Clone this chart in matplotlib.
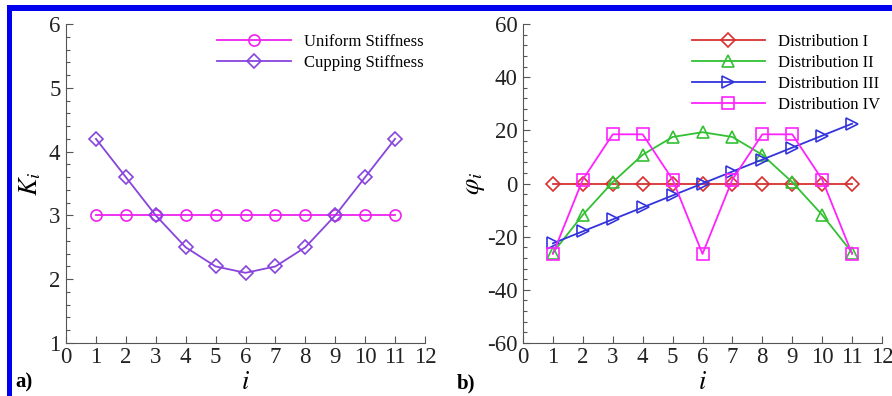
import matplotlib
matplotlib.use('Agg')
import matplotlib.pyplot as plt
from matplotlib.patches import Rectangle
from matplotlib.ticker import MultipleLocator

plt.rcParams['font.family'] = ['Liberation Serif', 'DejaVu Serif']
plt.rcParams['mathtext.fontset'] = 'stix'
plt.rcParams['axes.unicode_minus'] = False

# data
i_vals = [1, 2, 3, 4, 5, 6, 7, 8, 9, 10, 11]
uniform = [3, 3, 3, 3, 3, 3, 3, 3, 3, 3, 3]
cupping = [4.2, 3.6, 3.0, 2.5, 2.2, 2.1, 2.2, 2.5, 3.0, 3.6, 4.2]

dist1 = [0, 0, 0, 0, 0, 0, 0, 0, 0, 0, 0]
dist2 = [-26, -11.8, 0.5, 10.8, 17.5, 19.3, 17.5, 10.8, 0.5, -11.8, -26]
dist3 = [-22.5, -18, -13.5, -9, -4.5, 0, 4.5, 9, 13.5, 18, 22.5]
dist4 = [-26.5, 1.5, 18.5, 18.5, 1.5, -26.5, 1.5, 18.5, 18.5, 1.5, -26.5]

W, H = 892, 396
fig = plt.figure(figsize=(W / 100, H / 100), dpi=100)

ax1 = fig.add_axes([66 / W, 1 - 343 / H, (425 - 66) / W, (343 - 24) / H])
ax2 = fig.add_axes([523 / W, 1 - 343 / H, (882 - 523) / W, (343 - 24) / H])

mk = dict(markerfacecolor='none', markersize=8, markeredgewidth=1.2, linewidth=1.3)
dmk = dict(markerfacecolor='none', markersize=7, markeredgewidth=1.2, linewidth=1.3)

ax1.plot(i_vals, uniform, color='#ee22ee', marker='o', label='Uniform Stiffness', **mk)
ax1.plot(i_vals, cupping, color='#8844dd', marker='D', label='Cupping Stiffness', **dmk)

ax2.plot(i_vals, dist1, color='#d83030', marker='D', label='Distribution I', **dmk)
ax2.plot(i_vals, dist2, color='#33c033', marker='^', label='Distribution II', **mk)
ax2.plot(i_vals, dist3, color='#3333dd', marker='>', label='Distribution III', **mk)
ax2.plot(i_vals, dist4, color='#ff22ff', marker='s', label='Distribution IV', **mk)

ax1.set_xlim(0, 12)
ax1.set_ylim(1, 6)
ax1.yaxis.set_major_locator(MultipleLocator(1))
ax1.yaxis.set_minor_locator(MultipleLocator(0.2))
ax2.set_xlim(0, 12)
ax2.set_ylim(-60, 60)
ax2.yaxis.set_major_locator(MultipleLocator(20))
ax2.yaxis.set_minor_locator(MultipleLocator(4))

for ax in (ax1, ax2):
    ax.xaxis.set_major_locator(MultipleLocator(1))
    ax.spines['top'].set_visible(False)
    ax.spines['right'].set_visible(False)
    ax.spines['left'].set_color('#555555')
    ax.spines['bottom'].set_color('#555555')
    ax.tick_params(which='major', direction='in', length=5, width=0.8, color='#555555',
                   labelsize=16.5, pad=4, labelcolor='#222222')
    ax.tick_params(which='minor', direction='in', length=3, width=0.8, color='#555555')
    ax.tick_params(axis='x', pad=3)
    ax.set_xlabel('$i$', fontsize=19, labelpad=3)
    ax.legend(loc='upper right', frameon=False, fontsize=12, handlelength=4.4,
              borderaxespad=0.2, labelspacing=0.3, handletextpad=0.8,
              bbox_to_anchor=(1.024, 1.0))

ax1.set_ylabel('$K_i$', fontsize=19, labelpad=4)
ax2.set_ylabel(r'$\varphi_i$', fontsize=19, labelpad=0)

fig.text(15 / W, 1 - 382 / H, 'a)', fontsize=15, fontweight='bold', va='center', ha='left')
fig.text(457 / W, 1 - 383 / H, 'b)', fontsize=15, fontweight='bold', va='center', ha='left')

# blue frame pieces
fig.add_artist(Rectangle((7 / W, 1 - 11 / H), 1 - 7 / W, 6 / H, transform=fig.transFigure,
                         facecolor='#0000ee', edgecolor='none'))
fig.add_artist(Rectangle((7 / W, 0), 5 / W, 1 - 5 / H, transform=fig.transFigure,
                         facecolor='#0000ee', edgecolor='none'))

fig.savefig('out.png', dpi=100)
